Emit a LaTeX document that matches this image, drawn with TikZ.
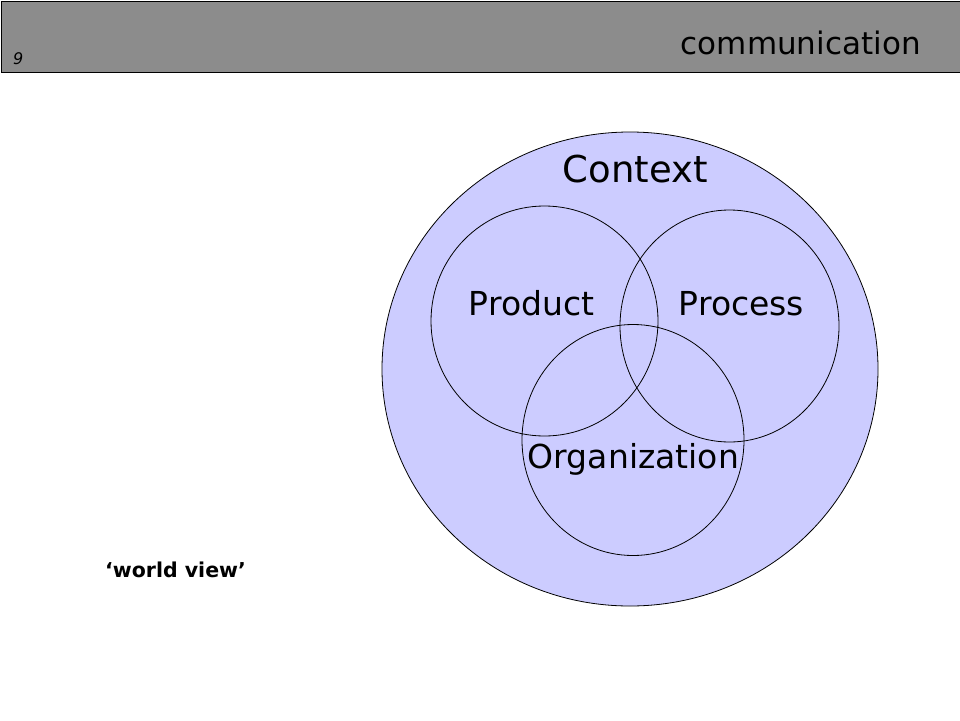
\documentclass[tikz,border=0pt]{standalone}
\usepackage{fontspec}
\setmainfont{DejaVu Sans}
\usetikzlibrary{shapes.geometric,positioning}
\definecolor{headgray}{HTML}{8C8C8C}
\definecolor{lavender}{HTML}{CCCCFF}
\tikzset{ring/.style={ellipse, draw=black, line width=0.8pt, inner sep=0pt},
	labeled/.style={anchor=base, inner sep=0pt,
		font=\fontsize{33}{36}\selectfont}}

\begin{document}
\begin{tikzpicture}[x=1pt,y=-1pt]
	\useasboundingbox (0,0) rectangle (960,720);
	% header bar
	\node[draw=black, line width=1pt, fill=headgray, anchor=north west,
	minimum width=959pt, minimum height=71.5pt, inner sep=0pt] (bar) at (0.5,0.8) {};
	\node[anchor=base west, inner sep=0pt, font=\fontsize{31}{34}\selectfont]
	(title) at (680.7,54.3) {communication};
	\node[anchor=base west, inner sep=0pt, font=\fontsize{16}{18}\selectfont\itshape]
	(page) at (13,64.3) {9};
	% world view circles
	\node[ring, fill=lavender, minimum width=496pt, minimum height=474pt] (context) at (630,369) {};
	\node[ring, minimum width=227pt, minimum height=230pt] (product) at (544.5,321) {};
	\node[ring, minimum width=219pt, minimum height=232pt] (process) at (729.5,326) {};
	\node[ring, minimum width=222pt, minimum height=231pt] (organization) at (633,440) {};
	% labels
	\node[labeled, font=\fontsize{37}{40}\selectfont] (context label) at (635.4,182.7) {Context};
	\node[labeled] (product label) at (531.5,315.7) {Product};
	\node[labeled] (process label) at (741.5,315.7) {Process};
	\node[labeled] (organization label) at (633.4,468) {Organization};
	\node[anchor=base, inner sep=0pt, font=\fontsize{20.5}{23}\selectfont\bfseries]
	(world view) at (175.5,577) {‘world view’};
\end{tikzpicture}
\end{document}
